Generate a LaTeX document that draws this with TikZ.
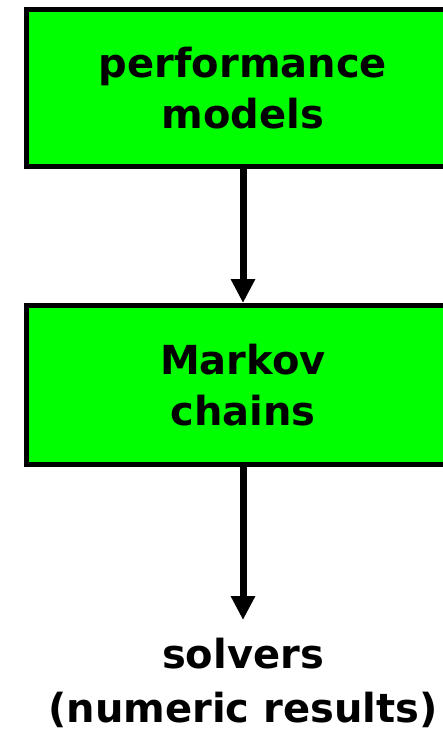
\documentclass[tikz,border=0pt]{standalone}
\usepackage{fontspec}
\setmainfont{DejaVu Sans}
\usetikzlibrary{arrows.meta}
\definecolor{boxgreen}{RGB}{0,255,0}
\tikzset{
  greenbox/.style={draw=black, fill=boxgreen, line width=5pt, minimum width=434pt, align=center, inner sep=0pt,
    font=\bfseries\fontsize{40}{51}\selectfont},
  plain/.style={align=center, inner sep=0pt, font=\bfseries\fontsize{40}{54}\selectfont},
  flow/.style={line width=7pt, -{Triangle[length=24pt,width=23pt]}}
}
\begin{document}
\begin{tikzpicture}[x=1pt,y=-1pt]
\useasboundingbox (0,0) rectangle (443,732);
\node[greenbox, minimum height=157pt] (perf) at (243,88) {performance\\models};
\node[greenbox, minimum height=159pt] (markov) at (243,385) {Markov\\chains};
\node[plain] (solv) at (243,683) {solvers\\(numeric results)};
\coordinate (tip) at (243,620);
\draw[flow] (perf.south) -- (markov.north);
\draw[flow] (markov.south) -- (tip);
\end{tikzpicture}
\end{document}
